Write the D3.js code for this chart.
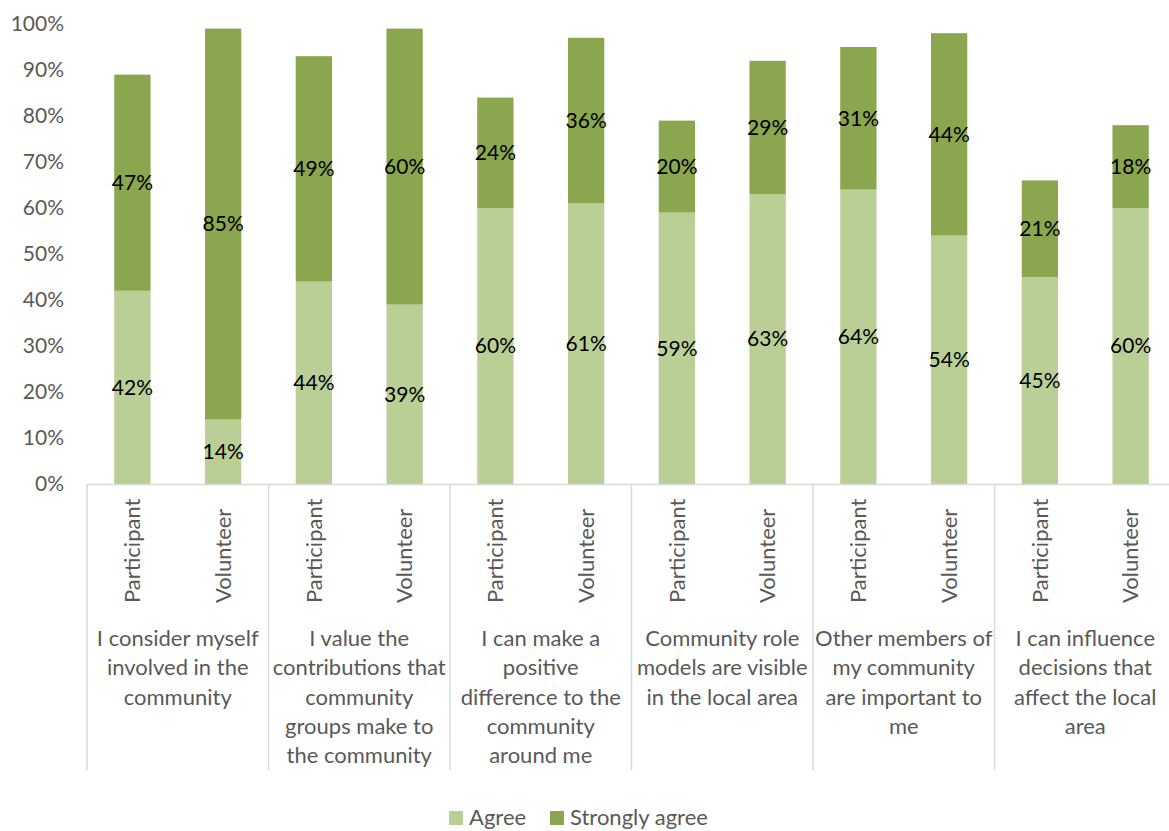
<!DOCTYPE html>
<html>
<head>
<meta charset="utf-8">
<script src="https://cdn.jsdelivr.net/npm/d3@7"></script>
<style>
  html, body { margin: 0; padding: 0; background: #fff; }
  svg { display: block; font-family: Lato, "Open Sans", sans-serif; }
</style>
</head>
<body>
<svg id="chart" width="1169" height="831"></svg>
<script>
// ---- data ----
const statements = [
  ["I consider myself", "involved in the", "community"],
  ["I value the", "contributions that", "community", "groups make to", "the community"],
  ["I can make a", "positive", "difference to the", "community", "around me"],
  ["Community role", "models are visible", "in the local area"],
  ["Other members of", "my community", "are important to", "me"],
  ["I can influence", "decisions that", "affect the local", "area"]
];
const roles = ["Participant", "Volunteer"];
const agreeParticipant = [42, 44, 60, 59, 64, 45];
const agreeVolunteer   = [14, 39, 61, 63, 54, 60];
const strongParticipant = [47, 49, 24, 20, 31, 21];
const strongVolunteer   = [85, 60, 36, 29, 44, 18];
const seriesNames = ["Agree", "Strongly agree"];
const yTicks = [0, 10, 20, 30, 40, 50, 60, 70, 80, 90, 100];

// ---- build rows ----
const rows = [];
statements.forEach((s, i) => {
  rows.push({ g: i, role: "Participant", agree: agreeParticipant[i], strong: strongParticipant[i] });
  rows.push({ g: i, role: "Volunteer", agree: agreeVolunteer[i], strong: strongVolunteer[i] });
});

const colors = { Agree: "#b9cf96", "Strongly agree": "#8aa64e" };
const numSize = 21, txtSize = 22;
const svg = d3.select("#chart");

const x0 = d3.scaleBand().domain(d3.range(statements.length)).range([87, 1176]).padding(0);
const x1 = d3.scaleBand().domain(roles).range([0, x0.bandwidth()]).paddingInner(0.6).paddingOuter(0.3);
const y = d3.scaleLinear().domain([0, 100]).range([484, 24]);

// y tick labels
const yAxis = d3.axisLeft(y).tickValues(yTicks).tickFormat(d => d + "%").tickSize(0).tickPadding(0);
const ga = svg.append("g").attr("transform", "translate(64,0)").call(yAxis);
ga.select(".domain").remove();
ga.selectAll("text").attr("font-size", numSize).attr("fill", "#595959").attr("font-family", "Lato, sans-serif");

// bars
const bars = svg.append("g");
rows.forEach(r => {
  const bx = x0(r.g) + x1(r.role);
  bars.append("rect").attr("x", bx).attr("width", x1.bandwidth())
    .attr("y", y(r.agree)).attr("height", y(0) - y(r.agree)).attr("fill", colors.Agree);
  bars.append("rect").attr("x", bx).attr("width", x1.bandwidth())
    .attr("y", y(r.agree + r.strong)).attr("height", y(r.agree) - y(r.agree + r.strong)).attr("fill", colors["Strongly agree"]);
  const cx = bx + x1.bandwidth() / 2;
  bars.append("text").attr("x", cx).attr("y", y(r.agree / 2)).attr("dy", "0.35em")
    .attr("text-anchor", "middle").attr("font-size", numSize).attr("fill", "#000").text(r.agree + "%");
  bars.append("text").attr("x", cx).attr("y", y(r.agree + r.strong / 2)).attr("dy", "0.35em")
    .attr("text-anchor", "middle").attr("font-size", numSize).attr("fill", "#000").text(r.strong + "%");
});

// axis line and group separators
const axisColor = "#d9d9d9";
svg.append("line").attr("x1", 87).attr("x2", 1176).attr("y1", y(0) + 0.5).attr("y2", y(0) + 0.5)
  .attr("stroke", axisColor).attr("stroke-width", 1.5);
d3.range(statements.length + 1).forEach(i => {
  const xx = i < statements.length ? x0(i) : x0(statements.length - 1) + x0.bandwidth();
  svg.append("line").attr("x1", xx).attr("x2", xx).attr("y1", y(0)).attr("y2", 770)
    .attr("stroke", axisColor).attr("stroke-width", 1.5);
});

// role labels (rotated)
rows.forEach(r => {
  const cx = x0(r.g) + x1(r.role) + x1.bandwidth() / 2;
  svg.append("text").attr("transform", `translate(${cx},603) rotate(-90)`)
    .attr("dy", "0.35em").attr("font-size", txtSize).attr("fill", "#595959").text(r.role);
});

// statement labels
statements.forEach((lines, i) => {
  const cx = x0(i) + x0.bandwidth() / 2;
  const t = svg.append("text").attr("text-anchor", "middle").attr("font-size", txtSize).attr("fill", "#595959");
  lines.forEach((ln, k) => {
    t.append("tspan").attr("x", cx).attr("y", 646 + k * 29.3).text(ln);
  });
});

// legend
const legend = svg.append("g");
const legX = [449, 550];
seriesNames.forEach((name, i) => {
  legend.append("rect").attr("x", legX[i]).attr("y", 811).attr("width", 14).attr("height", 14).attr("fill", colors[name]);
  legend.append("text").attr("x", legX[i] + 20).attr("y", 825).attr("font-size", txtSize).attr("fill", "#595959").text(name);
});
</script>
</body>
</html>
